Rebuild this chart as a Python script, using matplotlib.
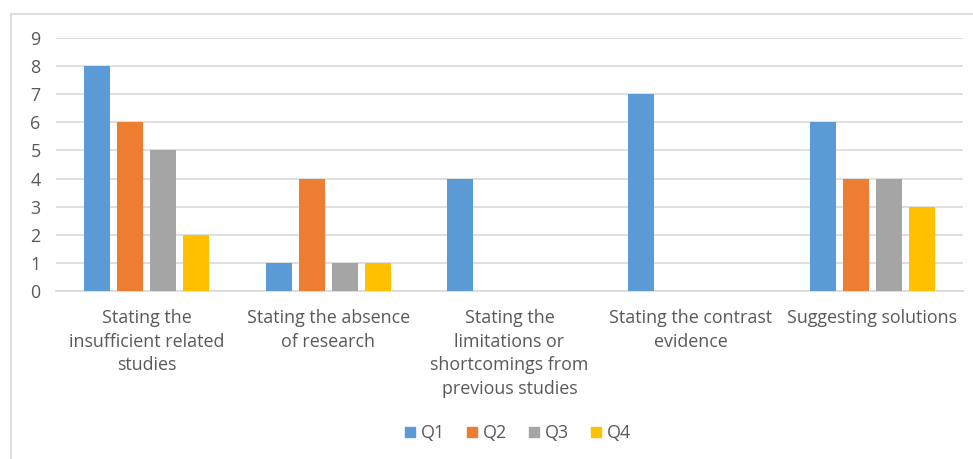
import matplotlib
matplotlib.use("Agg")
import matplotlib.pyplot as plt
import numpy as np
from matplotlib.lines import Line2D

categories = [
    "Stating the\ninsufficient related\nstudies",
    "Stating the absence\nof research",
    "Stating the\nlimitations or\nshortcomings from\nprevious studies",
    "Stating the contrast\nevidence",
    "Suggesting solutions",
]
series_names = ["Q1", "Q2", "Q3", "Q4"]
q1 = [8, 1, 4, 7, 6]
q2 = [6, 4, 0, 0, 4]
q3 = [5, 1, 0, 0, 4]
q4 = [2, 1, 0, 0, 3]
colors = ["#5B9BD5", "#ED7D31", "#A5A5A5", "#FFC000"]
y_ticks = list(range(0, 10))

plt.rcParams['font.family'] = ['Open Sans', 'DejaVu Sans']
text_color = "#595959"
fs = 12.9

fig = plt.figure(figsize=(9.73, 4.59), dpi=100)
W, H = 973, 459
ax = fig.add_axes([56 / W, 1 - 291 / H, (963 - 56) / W, (291 - 38) / H])

x = np.arange(len(categories))
step = 0.182
width = 0.143
all_series = [q1, q2, q3, q4]
for i, (vals, c, name) in enumerate(zip(all_series, colors, series_names)):
    offs = (i - 1.5) * step
    ax.bar(x + offs, vals, width=width, color=c, label=name, zorder=3)

ax.set_xlim(-0.5, len(categories) - 0.5)
ax.set_ylim(0, 9)
ax.set_yticks(y_ticks)
ax.set_yticklabels([str(t) for t in y_ticks], fontsize=fs, color=text_color)
ax.set_xticks(x)
ax.set_xticklabels(categories, fontsize=fs, color=text_color, linespacing=1.4)
ax.tick_params(axis='both', length=0)
ax.tick_params(axis='y', pad=11)
ax.tick_params(axis='x', pad=13)
ax.grid(axis='y', color="#D9D9D9", linewidth=1.2, zorder=0)
for s in ["top", "right", "left"]:
    ax.spines[s].set_visible(False)
ax.spines["bottom"].set_color("#D9D9D9")
ax.spines["bottom"].set_linewidth(1.2)

# chart border (top and left visible)
fig.add_artist(Line2D([11 / W, 11 / W], [0, 1 - 14 / H], transform=fig.transFigure,
                      color="#D9D9D9", linewidth=1.2))
fig.add_artist(Line2D([11 / W, 1], [1 - 14 / H, 1 - 14 / H], transform=fig.transFigure,
                      color="#D9D9D9", linewidth=1.2))

handles = [Line2D([0], [0], marker='s', linestyle='none', markersize=7,
                  markerfacecolor=c, markeredgecolor=c) for c in colors]
leg = fig.legend(handles, series_names, loc='center', bbox_to_anchor=(516 / W, 1 - 433 / H),
                 ncol=4, frameon=False, fontsize=fs, handletextpad=0.1,
                 columnspacing=1.0, handlelength=1.0)
for t in leg.get_texts():
    t.set_color(text_color)

fig.savefig("out.png", dpi=100, facecolor="white")
